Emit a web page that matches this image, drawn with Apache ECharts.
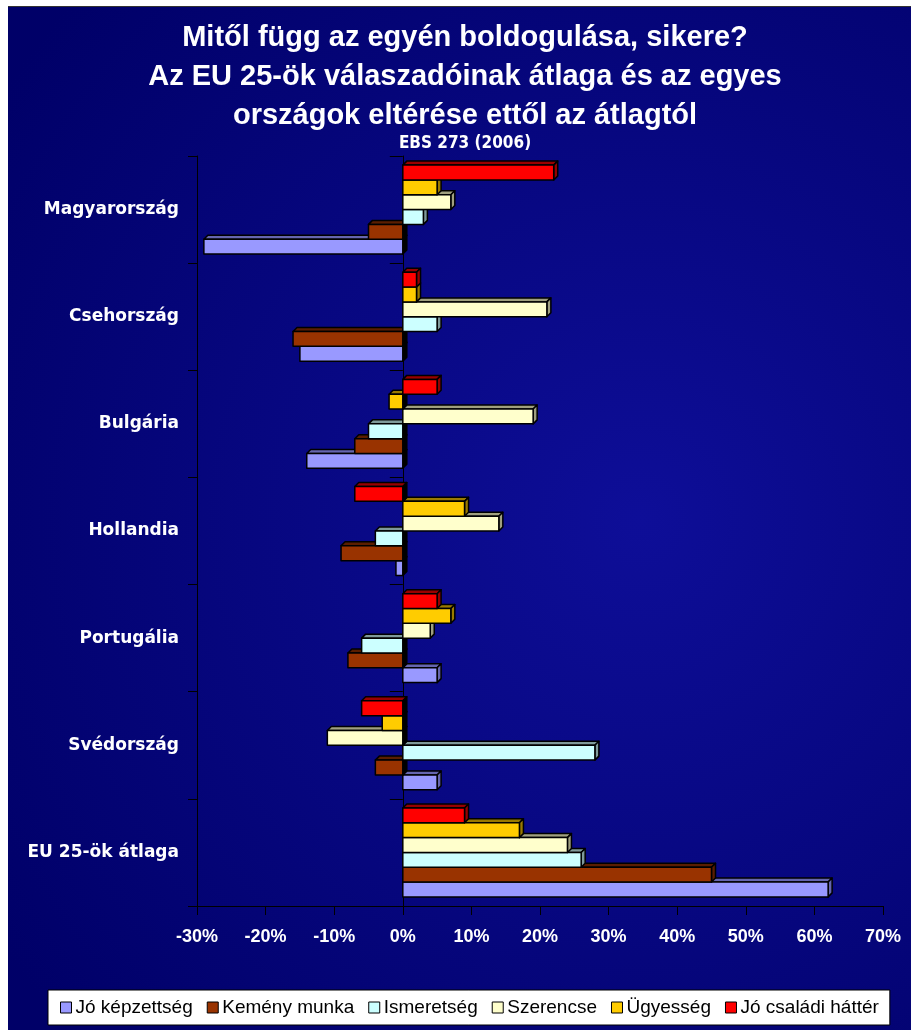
<!DOCTYPE html>
<html>
<head>
<meta charset="utf-8">
<script src="https://cdn.jsdelivr.net/npm/echarts@6/dist/echarts.min.js"></script>
<style>
  html, body { margin: 0; padding: 0; background: #fff; }
  #main { position: absolute; left: 8px; top: 6px; width: 903px; height: 1024px; border-top: 1px solid #333; }
</style>
</head>
<body>
<div id="main"></div>
<script>
// kategóriák alulról felfelé
const countries = ['EU 25-ök átlaga', 'Svédország', 'Portugália', 'Hollandia', 'Bulgária', 'Csehország', 'Magyarország'];
const xTicks = [-30, -20, -10, 0, 10, 20, 30, 40, 50, 60, 70];

const kepzettseg = [62, 5, 5, -1, -14, -15, -29];
const kemenyMunka = [45, -4, -8, -9, -7, -16, -5];
const ismeretseg = [26, 28, -6, -4, -5, 5, 3];
const szerencse = [24, -11, 4, 14, 19, 21, 7];
const ugyesseg = [17, -3, 7, 9, -2, 2, 5];
const csaladiHatter = [9, -6, 5, -7, 5, 2, 22];

const seriesDefs = [
  { name: 'Jó képzettség', data: kepzettseg, color: '#9999FF', side: '#6666b0' },
  { name: 'Kemény munka', data: kemenyMunka, color: '#993300', side: '#5a1e00' },
  { name: 'Ismeretség', data: ismeretseg, color: '#CCFFFF', side: '#7f9a9a' },
  { name: 'Szerencse', data: szerencse, color: '#FFFFCC', side: '#a0a080' },
  { name: 'Ügyesség', data: ugyesseg, color: '#FFCC00', side: '#9a7a00' },
  { name: 'Jó családi háttér', data: csaladiHatter, color: '#FF0000', side: '#990000' }
];

const GAP = 0.17;   // a kategóriák közti rés aránya
const DEPTH = 4;    // 3D mélység pixelben

// 3D-s vízszintes oszlop: elölnézet + felső és jobb oldali lap
function bar3d(k, s) {
  return function (params, api) {
    const cat = api.value(0);
    const v = api.value(1);
    const band = api.size([0, 1])[1];
    const barH = band * (1 - GAP) / seriesDefs.length;
    const base = api.coord([0, cat]);
    const end = api.coord([v, cat]);
    const bottom = base[1] + band * (1 - GAP) / 2 - k * barH;
    const top = bottom - barH;
    const x0 = Math.min(base[0], end[0]);
    const x1 = Math.max(base[0], end[0]);
    const d = DEPTH;
    const line = { stroke: '#000', lineWidth: 1.5, lineJoin: 'round' };
    return {
      type: 'group',
      children: [
        { type: 'polygon', shape: { points: [[x0, top], [x0 + d, top - d], [x1 + d, top - d], [x1, top]] },
          style: Object.assign({ fill: s.side }, line) },
        { type: 'polygon', shape: { points: [[x1, top], [x1 + d, top - d], [x1 + d, bottom - d], [x1, bottom]] },
          style: Object.assign({ fill: v < 0 ? '#000' : s.side }, line) },
        { type: 'rect', shape: { x: x0, y: top, width: x1 - x0, height: barH },
          style: Object.assign({ fill: s.color }, line) }
      ]
    };
  };
}

const myChart = echarts.init(document.getElementById('main'));
myChart.setOption({
  backgroundColor: {
    type: 'radial', x: 0.7, y: 0.5, r: 0.85,
    colorStops: [{ offset: 0, color: '#0e0e98' }, { offset: 1, color: '#000068' }]
  },
  title: [
    {
      text: 'Mitől függ az egyén boldogulása, sikere?\nAz EU 25-ök válaszadóinak átlaga és az egyes\nországok eltérése ettől az átlagtól',
      left: 452, textAlign: 'center', top: 6,
      textStyle: { color: '#fff', fontFamily: 'Liberation Sans', fontWeight: 'bold', fontSize: 29, lineHeight: 39 }
    },
    {
      text: 'EBS 273 (2006)',
      left: 452, textAlign: 'center', top: 123,
      textStyle: { color: '#fff', fontFamily: 'Liberation Sans Narrow, DejaVu Sans Condensed', fontWeight: 'bold', fontSize: 17 }
    }
  ],
  legend: {
    left: 40, top: 983,
    padding: [8, 11, 8, 12],
    backgroundColor: '#fff', borderColor: '#000', borderWidth: 1, borderRadius: 0,
    itemWidth: 11, itemHeight: 11, itemGap: 14,
    icon: 'rect',
    itemStyle: { borderColor: '#000', borderWidth: 1 },
    textStyle: { color: '#000', fontFamily: 'Liberation Sans', fontSize: 19, padding: [0, 0, 0, -1] },
    data: seriesDefs.map(s => s.name)
  },
  grid: { left: 189, width: 686, top: 149, height: 750 },
  xAxis: {
    type: 'value', min: -30, max: 70, interval: 10,
    axisLine: { show: true, onZero: false, lineStyle: { color: '#000', width: 1 } },
    axisTick: { show: true, length: 9, lineStyle: { color: '#000' } },
    splitLine: { show: false },
    axisLabel: {
      color: '#fff', fontFamily: 'Liberation Sans', fontWeight: 'bold', fontSize: 18, margin: 22,
      formatter: v => xTicks.includes(v) ? v + '%' : ''
    }
  },
  yAxis: [
    {
      type: 'category', data: countries, position: 'left',
      axisLine: { show: true, onZero: false, lineStyle: { color: '#000' } },
      axisTick: { show: true, length: 9, lineStyle: { color: '#000' } },
      axisLabel: { color: '#fff', fontFamily: 'DejaVu Sans', fontWeight: 'bold', fontSize: 17, margin: 18 }
    },
    {
      type: 'category', data: countries, position: 'left',
      axisLine: { show: true, onZero: true, lineStyle: { color: '#000' } },
      axisTick: { show: true, length: 13, lineStyle: { color: '#000' } },
      axisLabel: { show: false }
    }
  ],
  series: seriesDefs.map((s, k) => ({
    name: s.name,
    type: 'custom',
    renderItem: bar3d(k, s),
    encode: { x: 1, y: 0 },
    data: s.data.map((v, i) => [i, v]),
    itemStyle: { color: s.color },
    animation: false
  }))
});
</script>
</body>
</html>
